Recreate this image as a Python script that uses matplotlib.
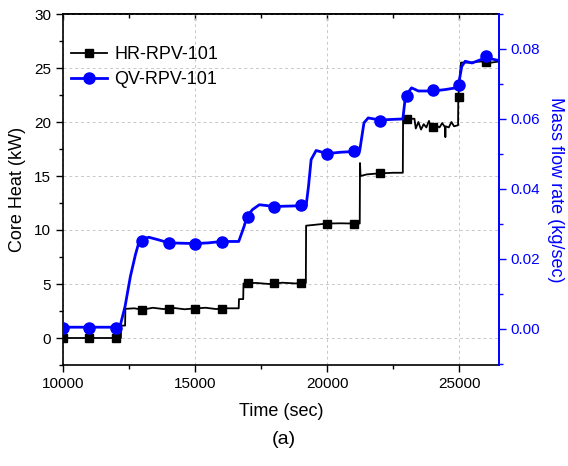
import numpy as np
import matplotlib
matplotlib.use('Agg')
import matplotlib.pyplot as plt
from matplotlib.ticker import MultipleLocator, FormatStrFormatter

plt.rcParams['font.family'] = ['Liberation Sans', 'DejaVu Sans']

# ---- data ----
# markers every 1000 s
marker_time = [10000, 11000, 12000, 13000, 14000, 15000, 16000, 17000, 18000,
               19000, 20000, 21000, 22000, 23000, 24000, 25000, 26000]
hr_marker = [0, 0, 0, 2.63, 2.7, 2.7, 2.7, 5.05, 5.08,
             5.08, 10.6, 10.6, 15.25, 20.3, 19.5, 22.3, 25.55]
qv_marker = [0.0003, 0.0003, 0.0003, 0.0251, 0.0245, 0.0244, 0.0249, 0.0319, 0.0349,
             0.0355, 0.0499, 0.0509, 0.0595, 0.0665, 0.0682, 0.0696, 0.0779]

# HR-RPV-101 trace (core heat, kW)
hr_time = [10000, 12190, 12200, 12350, 12360, 12700, 13000, 13400, 13800, 14200,
           14600, 15000, 15400, 15800, 16200, 16650, 16660, 16820, 16830, 17300,
           17800, 18300, 18800, 19190, 19200, 19600, 20000, 20500, 21000, 21230,
           21240, 21260, 21500, 22000, 22500, 22860, 22870, 23100, 23300, 23350,
           23450, 23550, 23650, 23750, 23850, 23950, 24100, 24250, 24350, 24460,
           24470, 24480, 24600, 24700, 24800, 24950, 24960, 25060, 25400, 25800,
           26200, 26500]
hr_value = [0, 0, 1.15, 1.15, 2.7, 2.75, 2.62, 2.8, 2.68, 2.78,
            2.66, 2.74, 2.8, 2.68, 2.75, 2.75, 3.6, 3.6, 5.05, 5.1,
            5.0, 5.12, 5.05, 5.1, 10.4, 10.5, 10.6, 10.62, 10.6, 10.6,
            16.2, 15.0, 15.15, 15.25, 15.3, 15.3, 20.2, 20.3, 20.3, 19.4,
            20.0, 19.3, 19.8, 19.5, 20.1, 19.4, 19.7, 19.5, 19.9, 19.5,
            18.6, 19.6, 19.5, 20.0, 19.6, 19.7, 22.3, 25.5, 25.5, 25.6,
            25.5, 25.6]

# QV-RPV-101 trace (mass flow rate, kg/sec)
qv_time = [10000, 12150, 12350, 12550, 12740, 12900, 13250, 13600, 14000, 14500,
           15000, 15500, 16000, 16650, 16840, 16970, 17170, 17430, 18000, 18500,
           19000, 19200, 19290, 19390, 19580, 20000, 20500, 21000, 21230, 21290,
           21390, 21550, 22000, 22500, 22860, 22960, 23190, 23450, 24000, 24460,
           24950, 25090, 25220, 25480, 26000, 26500]
qv_value = [0.0005, 0.0005, 0.0065, 0.015, 0.0212, 0.0255, 0.0262, 0.0255, 0.0246, 0.0245,
            0.0244, 0.0246, 0.025, 0.025, 0.029, 0.0322, 0.0341, 0.0355, 0.035, 0.0351,
            0.0352, 0.0352, 0.0407, 0.0484, 0.051, 0.0501, 0.0505, 0.0507, 0.051, 0.054,
            0.0589, 0.0603, 0.0597, 0.0599, 0.060, 0.0665, 0.0689, 0.068, 0.068, 0.0684,
            0.069, 0.075, 0.0765, 0.076, 0.0775, 0.0767]

fig = plt.figure(figsize=(5.68, 4.66), dpi=100)
ax1 = fig.add_axes([63 / 568, 1 - 365 / 466, 436 / 568, 351 / 466])
ax2 = ax1.twinx()

blue = '#0000ff'

# black series
ax1.plot(hr_time, hr_value, color='black', lw=1.3, zorder=3)
ax1.plot(marker_time, hr_marker, ls='none', marker='s', ms=6.3, color='black', zorder=4)

# blue series
ax2.plot(qv_time, qv_value, color=blue, lw=2.0, zorder=3)
ax2.plot(marker_time, qv_marker, ls='none', marker='o', ms=8, color=blue, zorder=4)

# legend handles
h1, = ax2.plot([], [], color='black', lw=1.3, marker='s', ms=6.3, label='HR-RPV-101')
h2, = ax2.plot([], [], color=blue, lw=2.0, marker='o', ms=8, label='QV-RPV-101')
ax2.legend(handles=[h1, h2], loc='upper left', bbox_to_anchor=(-0.01, 0.945),
           frameon=False, fontsize=13, handlelength=2.0, handletextpad=0.4,
           labelspacing=0.45, borderaxespad=0.3)

ax1.set_xlim(10000, 26500)
ax1.set_ylim(-2.5, 30)
ax2.set_ylim(-0.0103, 0.09)

ax1.xaxis.set_major_locator(MultipleLocator(5000))
ax1.xaxis.set_minor_locator(MultipleLocator(2500))
ax1.yaxis.set_major_locator(MultipleLocator(5))
ax1.yaxis.set_minor_locator(MultipleLocator(2.5))
ax2.yaxis.set_major_locator(MultipleLocator(0.02))
ax2.yaxis.set_minor_locator(MultipleLocator(0.01))
ax2.yaxis.set_major_formatter(FormatStrFormatter('%.2f'))

ax1.grid(True, which='major', color='#c8c8c8', ls=(0, (3, 3)), lw=0.7)
ax1.set_axisbelow(True)

ax1.tick_params(axis='both', which='both', direction='out', labelsize=11,
                top=False, right=False, width=1.0)
ax1.tick_params(which='major', length=5)
ax1.tick_params(which='minor', length=3)

# inward ticks along the top edge
top = ax1.secondary_xaxis('top')
top.xaxis.set_major_locator(MultipleLocator(5000))
top.xaxis.set_minor_locator(MultipleLocator(2500))
top.tick_params(which='both', direction='in', labeltop=False, width=1.0)
top.tick_params(which='major', length=4)
top.tick_params(which='minor', length=3)
top.spines['top'].set_linewidth(1.2)

ax2.tick_params(axis='y', which='both', direction='out', colors=blue,
                labelsize=11, width=1.0)
ax2.tick_params(which='major', length=5)
ax2.tick_params(which='minor', length=3)

for sp in ['left', 'bottom', 'top']:
    ax1.spines[sp].set_linewidth(1.2)
ax2.spines['right'].set_color(blue)
ax2.spines['right'].set_linewidth(1.4)
ax1.spines['right'].set_visible(False)
for sp in ['left', 'bottom', 'top']:
    ax2.spines[sp].set_visible(False)

ax1.set_xlabel('Time (sec)', fontsize=13, labelpad=9)
ax1.set_ylabel('Core Heat (kW)', fontsize=13, labelpad=6)
ax2.set_ylabel('Mass flow rate (kg/sec)', fontsize=13, color=blue,
               rotation=270, labelpad=17)

fig.text(0.5, 1 - 440 / 466, '(a)', ha='center', va='center', fontsize=14)

fig.savefig('out.png', dpi=100)
